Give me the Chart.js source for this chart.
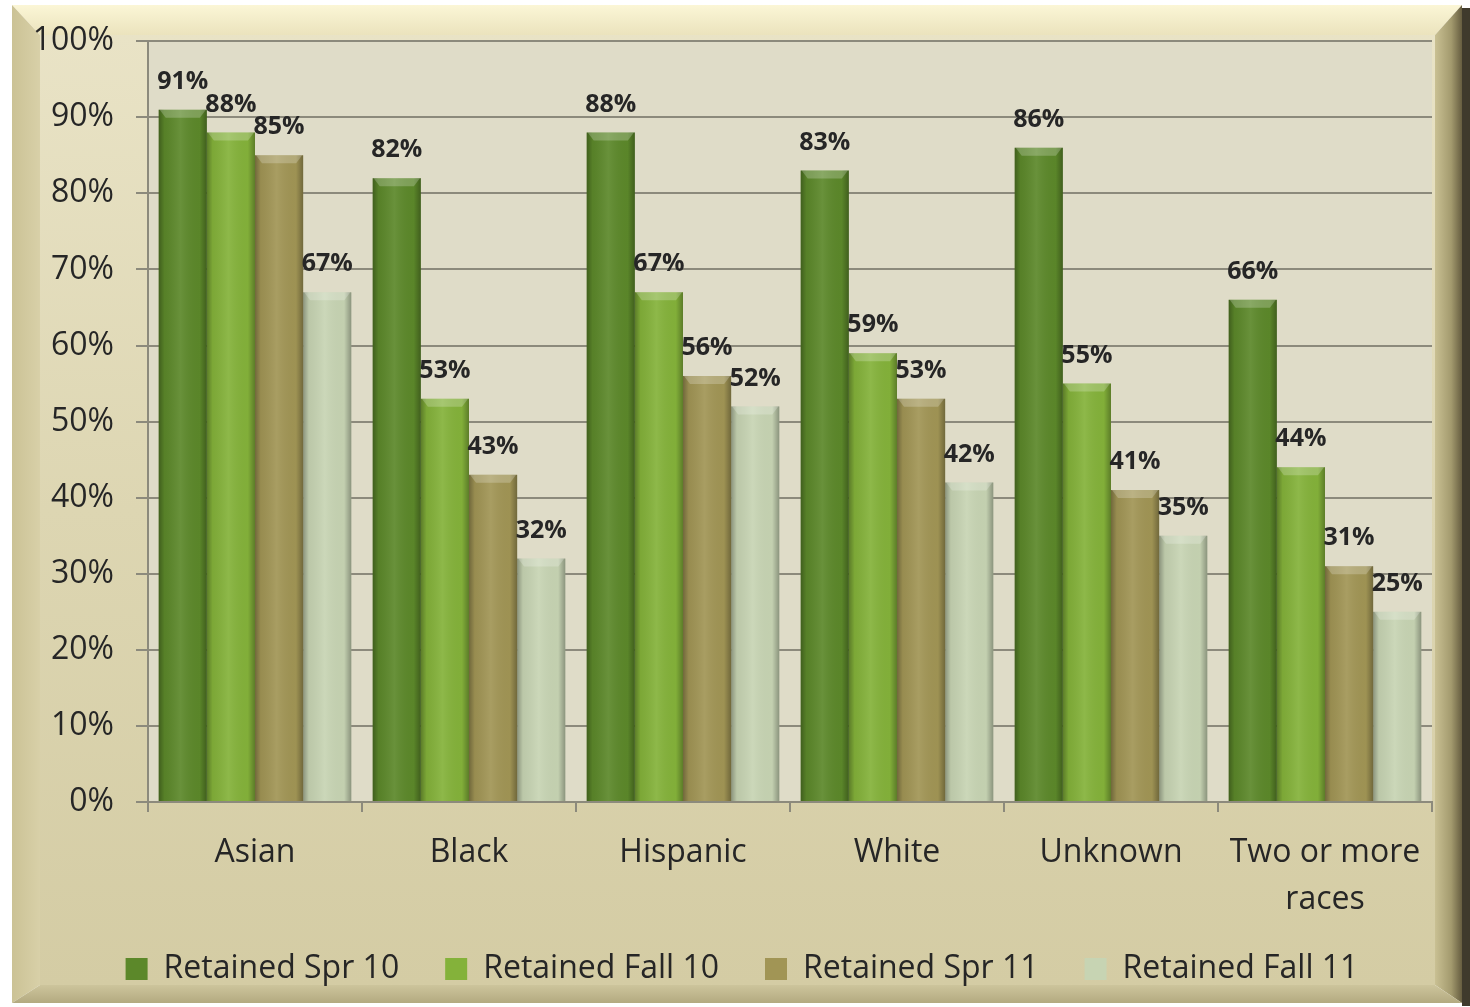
<!DOCTYPE html>
<html>
<head>
<meta charset="utf-8">
<script src="https://cdn.jsdelivr.net/npm/chart.js@4.4.1/dist/chart.umd.min.js"></script>
<style>
  html, body { margin: 0; padding: 0; background: #fff; }
  #wrap { width: 1470px; height: 1007px; }
</style>
</head>
<body>
<div id="wrap"><canvas id="chart" width="1470" height="1007"></canvas></div>
<script>
// Chart data
const categories = ['Asian', 'Black', 'Hispanic', 'White', 'Unknown', ['Two or more', 'races']];
const seriesNames = ['Retained Spr 10', 'Retained Fall 10', 'Retained Spr 11', 'Retained Fall 11'];
const retainedSpr10 = [91, 82, 88, 83, 86, 66];
const retainedFall10 = [88, 53, 67, 59, 55, 44];
const retainedSpr11 = [85, 43, 56, 53, 41, 31];
const retainedFall11 = [67, 32, 52, 42, 35, 25];
const yTickValues = [0, 10, 20, 30, 40, 50, 60, 70, 80, 90, 100];

const seriesColors = ['#5c882a', '#84b23a', '#a19555', '#c7d4b3'];
const FONT = '"Open Sans", "DejaVu Sans", sans-serif';
const TEXT = '#262626';

// Beveled frame and plot background
const framePlugin = {
    id: 'frame',
    afterLayout(chart) {
        // legend sits a little right of centre and a bit higher in the original
        chart.legend.left += 20;
        chart.legend.right += 20;
        chart.legend.top -= 12;
        chart.legend.bottom -= 12;
    },
    beforeDraw(chart) {
        const ctx = chart.ctx;
        const W = chart.width, H = chart.height;
        const x0 = 12, y0 = 5, x1 = 1462, y1 = 1003;
        const ix0 = 40, iy0 = 35, ix1 = 1435, iy1 = 985;
        ctx.save();
        ctx.fillStyle = '#ffffff';
        ctx.fillRect(0, 0, W, H);

        // dark outer edge on the right
        ctx.fillStyle = '#3f3a2c';
        ctx.fillRect(x1, y0 + 3, W - x1, y1 - y0);

        // face
        let g = ctx.createLinearGradient(0, iy0, 0, iy1);
        g.addColorStop(0, '#e9e3c6');
        g.addColorStop(0.5, '#ddd6b2');
        g.addColorStop(1, '#d4cca4');
        ctx.fillStyle = g;
        ctx.fillRect(ix0, iy0, ix1 - ix0, iy1 - iy0);

        // top bevel
        g = ctx.createLinearGradient(0, y0, 0, iy0);
        g.addColorStop(0, '#fbf6d6');
        g.addColorStop(1, '#ebe3bd');
        ctx.fillStyle = g;
        ctx.beginPath();
        ctx.moveTo(x0, y0); ctx.lineTo(x1, y0); ctx.lineTo(ix1, iy0); ctx.lineTo(ix0, iy0);
        ctx.closePath(); ctx.fill();

        // left bevel
        g = ctx.createLinearGradient(x0, 0, ix0, 0);
        g.addColorStop(0, '#cbc295');
        g.addColorStop(1, '#d8d0a8');
        ctx.fillStyle = g;
        ctx.beginPath();
        ctx.moveTo(x0, y0); ctx.lineTo(ix0, iy0); ctx.lineTo(ix0, iy1); ctx.lineTo(x0, y1);
        ctx.closePath(); ctx.fill();

        // right bevel
        g = ctx.createLinearGradient(ix1, 0, x1, 0);
        g.addColorStop(0, '#c9c093');
        g.addColorStop(0.6, '#a39a6e');
        g.addColorStop(1, '#665d40');
        ctx.fillStyle = g;
        ctx.beginPath();
        ctx.moveTo(x1, y0); ctx.lineTo(ix1, iy0); ctx.lineTo(ix1, iy1); ctx.lineTo(x1, y1);
        ctx.closePath(); ctx.fill();

        // bottom bevel
        g = ctx.createLinearGradient(0, iy1, 0, y1);
        g.addColorStop(0, '#cdc59c');
        g.addColorStop(1, '#b3aa80');
        ctx.fillStyle = g;
        ctx.beginPath();
        ctx.moveTo(x0, y1); ctx.lineTo(ix0, iy1); ctx.lineTo(ix1, iy1); ctx.lineTo(x1, y1);
        ctx.closePath(); ctx.fill();

        // plot area
        const a = chart.chartArea;
        ctx.fillStyle = '#dfdcc8';
        ctx.fillRect(a.left, a.top, a.right - a.left, a.bottom - a.top);
        ctx.restore();
    }
};

// 3D-ish shading over bars plus value labels
const barDecorPlugin = {
    id: 'barDecor',
    afterDatasetsDraw(chart) {
        const ctx = chart.ctx;
        ctx.save();
        chart.data.datasets.forEach((ds, di) => {
            const meta = chart.getDatasetMeta(di);
            meta.data.forEach((bar, i) => {
                const left = bar.x - bar.width / 2;
                const right = bar.x + bar.width / 2;
                const top = bar.y;
                const bottom = bar.base;
                const g = ctx.createLinearGradient(left, 0, right, 0);
                g.addColorStop(0, 'rgba(0,0,0,0.30)');
                g.addColorStop(0.12, 'rgba(0,0,0,0.06)');
                g.addColorStop(0.45, 'rgba(255,255,255,0.08)');
                g.addColorStop(0.85, 'rgba(0,0,0,0.02)');
                g.addColorStop(1, 'rgba(0,0,0,0.30)');
                ctx.fillStyle = g;
                ctx.fillRect(left, top, right - left, bottom - top);

                // top bevel highlight
                ctx.fillStyle = 'rgba(255,255,255,0.22)';
                ctx.beginPath();
                ctx.moveTo(left + 1, top);
                ctx.lineTo(right - 1, top);
                ctx.lineTo(right - 7, top + 8);
                ctx.lineTo(left + 7, top + 8);
                ctx.closePath();
                ctx.fill();

                // value label
                ctx.fillStyle = TEXT;
                ctx.font = 'bold 25px ' + FONT;
                ctx.textAlign = 'center';
                ctx.textBaseline = 'middle';
                ctx.fillText(ds.data[i] + '%', bar.x, top - 28);
            });
        });
        ctx.restore();
    }
};

const ctx = document.getElementById('chart').getContext('2d');
const chart = new Chart(ctx, {
    type: 'bar',
    data: {
        labels: categories,
        datasets: [
            { label: seriesNames[0], data: retainedSpr10, backgroundColor: seriesColors[0] },
            { label: seriesNames[1], data: retainedFall10, backgroundColor: seriesColors[1] },
            { label: seriesNames[2], data: retainedSpr11, backgroundColor: seriesColors[2] },
            { label: seriesNames[3], data: retainedFall11, backgroundColor: seriesColors[3] }
        ]
    },
    options: {
        responsive: false,
        animation: false,
        layout: { padding: { left: 12, right: 38, top: 40, bottom: 0 } },
        datasets: {
            bar: { categoryPercentage: 0.9, barPercentage: 1.0, borderWidth: 0 }
        },
        plugins: {
            legend: {
                position: 'bottom',
                labels: {
                    font: { family: FONT, size: 32 },
                    color: TEXT,
                    boxWidth: 22,
                    boxHeight: 22,
                    padding: 46
                }
            },
            tooltip: { enabled: false }
        },
        scales: {
            x: {
                grid: {
                    display: true,
                    drawOnChartArea: false,
                    drawTicks: true,
                    tickLength: 10,
                    color: '#8c8a7c',
                    lineWidth: 2,
                    offset: true
                },
                border: { display: true, color: '#8c8a7c', width: 2 },
                ticks: {
                    font: { family: FONT, size: 32, lineHeight: 1.47 },
                    color: TEXT,
                    padding: 17,
                    maxRotation: 0,
                    autoSkip: false
                },
                afterFit(scale) { scale.height = 117; }
            },
            y: {
                min: 0,
                max: 100,
                afterBuildTicks(scale) {
                    scale.ticks = yTickValues.map(v => ({ value: v }));
                },
                grid: {
                    color: '#8c8a7c',
                    lineWidth: 2,
                    drawTicks: true,
                    tickLength: 12
                },
                border: { display: true, color: '#8c8a7c', width: 2 },
                ticks: {
                    font: { family: FONT, size: 32 },
                    color: TEXT,
                    padding: 22,
                    callback: v => v + '%'
                },
                afterFit(scale) { scale.width = 136; }
            }
        }
    },
    plugins: [framePlugin, barDecorPlugin]
});
</script>
</body>
</html>
